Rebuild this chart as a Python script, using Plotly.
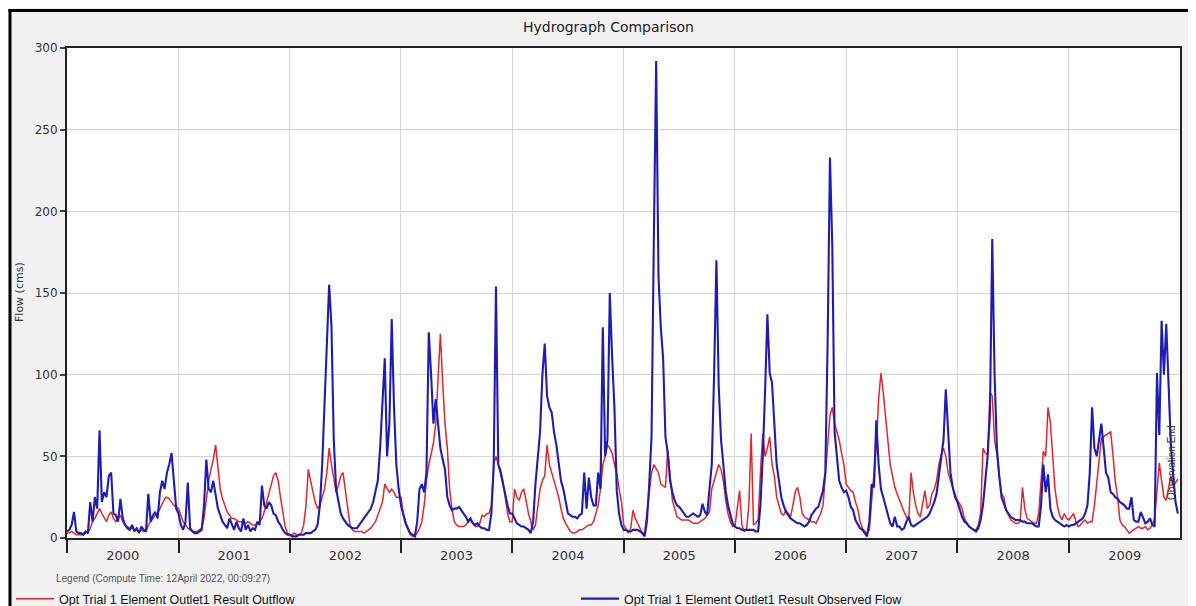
import datetime as dt
import plotly.graph_objects as go

years = list(range(2000, 2010))
SAMPLES_PER_YEAR = 48
year_tick_labels = [str(y) for y in years]

# Opt Trial 1 Element Outlet1 Result Outflow (cms), ~48 readings per year
out_2000 = [3, 3, 4, 3, 2, 2, 2, 2, 3, 3, 6, 10, 12, 15, 18, 15, 12, 10, 14, 16, 12, 10, 12, 14,
            10, 8, 7, 6, 6, 5, 5, 4, 5, 4, 4, 8, 10, 12, 14, 15, 18, 22, 24, 25, 24, 22, 20, 19]
out_2001 = [18, 14, 10, 8, 6, 5, 4, 4, 4, 5, 6, 12, 25, 35, 42, 48, 57, 45, 30, 24, 20, 16, 14, 12,
            12, 11, 10, 10, 9, 9, 10, 9, 8, 8, 9, 10, 12, 16, 22, 28, 34, 38, 40, 35, 25, 15, 7, 3]
out_2002 = [2, 2, 3, 2, 2, 3, 8, 20, 42, 35, 28, 22, 18, 20, 25, 30, 40, 55, 45, 35, 28, 32, 38, 40,
            30, 18, 8, 5, 4, 4, 4, 4, 3, 4, 5, 6, 8, 10, 14, 18, 22, 33, 30, 28, 30, 28, 25, 25]
out_2003 = [25, 15, 10, 5, 2, 1, 1, 3, 6, 10, 20, 35, 45, 52, 58, 70, 100, 125, 95, 70, 55, 30, 18, 10,
            8, 7, 7, 7, 8, 10, 11, 9, 7, 7, 9, 14, 13, 15, 15, 20, 45, 50, 45, 42, 35, 25, 15, 10]
out_2004 = [10, 30, 25, 23, 28, 30, 22, 15, 10, 5, 8, 20, 30, 35, 38, 57, 45, 40, 35, 30, 25, 18, 12, 9,
            6, 4, 3, 3, 4, 5, 5, 6, 7, 8, 8, 10, 15, 20, 30, 45, 50, 57, 55, 52, 45, 40, 30, 22]
out_2005 = [8, 5, 3, 6, 17, 12, 9, 6, 3, 3, 15, 25, 40, 45, 42, 40, 33, 32, 31, 54, 40, 23, 18, 13,
            12, 11, 11, 11, 11, 10, 9, 9, 9, 10, 11, 12, 14, 16, 30, 35, 40, 45, 42, 35, 23, 15, 10, 7]
out_2006 = [7, 19, 29, 8, 4, 5, 20, 64, 8, 9, 11, 40, 64, 50, 55, 62, 45, 38, 25, 20, 15, 14, 17, 15,
            13, 20, 28, 31, 25, 15, 13, 12, 11, 10, 10, 9, 12, 15, 20, 40, 60, 75, 80, 70, 65, 60, 52, 45]
out_2007 = [33, 31, 29, 28, 22, 18, 10, 6, 4, 3, 5, 23, 40, 56, 85, 101, 89, 75, 62, 45, 38, 31, 27, 23,
            19, 16, 13, 11, 40, 28, 20, 15, 13, 20, 29, 18, 20, 27, 30, 35, 45, 51, 55, 50, 40, 35, 31, 28]
out_2008 = [23, 21, 18, 12, 9, 7, 6, 5, 5, 8, 15, 55, 52, 51, 89, 87, 60, 51, 38, 27, 25, 17, 14, 11,
            10, 9, 9, 10, 31, 18, 12, 11, 10, 9, 9, 15, 35, 53, 50, 80, 71, 50, 30, 20, 14, 11, 15, 12]
out_2009 = [11, 13, 15, 10, 7, 8, 10, 11, 9, 10, 10, 20, 35, 50, 61, 62, 63, 64, 65, 51, 35, 25, 11, 8,
            7, 5, 3, 4, 5, 6, 7, 6, 6, 7, 5, 6, 8, 12, 32, 46, 35, 25, 23, 30, 38, 32, 34, 36]

# Opt Trial 1 Element Outlet1 Result Observed Flow (cms)
obs_2000 = [4, 5, 8, 16, 4, 3, 3, 2, 4, 3, 22, 10, 25, 18, 66, 22, 28, 25, 38, 40, 15, 14, 10, 24,
            12, 8, 6, 5, 8, 4, 6, 3, 7, 5, 4, 27, 10, 14, 16, 12, 28, 35, 30, 40, 45, 52, 35, 18]
obs_2001 = [15, 8, 5, 10, 34, 6, 4, 3, 3, 4, 5, 20, 48, 30, 28, 35, 25, 18, 14, 10, 8, 6, 12, 8,
            5, 10, 6, 4, 12, 5, 8, 4, 6, 5, 10, 8, 32, 20, 18, 22, 20, 15, 14, 10, 8, 5, 3, 2]
obs_2002 = [2, 1, 1, 1, 2, 2, 2, 3, 3, 3, 4, 5, 8, 20, 45, 80, 120, 155, 130, 60, 30, 22, 15, 12,
            10, 8, 7, 6, 6, 6, 8, 10, 12, 14, 16, 18, 22, 28, 35, 55, 80, 110, 50, 70, 134, 80, 45, 30]
obs_2003 = [20, 14, 9, 6, 3, 2, 1, 10, 30, 33, 28, 40, 126, 100, 70, 85, 69, 55, 48, 42, 25, 20, 17, 18,
            18, 19, 17, 15, 13, 10, 12, 9, 8, 9, 7, 6, 6, 5, 5, 15, 43, 154, 45, 40, 33, 25, 20, 15]
obs_2004 = [15, 12, 9, 8, 7, 7, 6, 5, 3, 10, 33, 50, 65, 100, 119, 87, 80, 77, 65, 57, 45, 35, 30, 22,
            15, 14, 13, 13, 12, 14, 15, 40, 18, 37, 25, 20, 20, 40, 30, 129, 50, 60, 150, 111, 80, 29, 15, 8]
obs_2005 = [5, 5, 4, 4, 5, 5, 5, 4, 3, 1, 10, 33, 62, 183, 292, 160, 129, 110, 62, 52, 35, 28, 23, 20,
            19, 17, 15, 13, 13, 14, 15, 14, 13, 14, 21, 16, 14, 30, 45, 100, 170, 93, 60, 45, 29, 20, 15, 9]
obs_2006 = [7, 6, 6, 5, 5, 5, 5, 5, 5, 4, 4, 20, 50, 90, 137, 101, 95, 70, 45, 35, 25, 20, 16, 14,
            12, 11, 10, 9, 9, 8, 7, 8, 10, 14, 16, 18, 19, 24, 29, 40, 120, 233, 180, 65, 50, 35, 31, 28]
obs_2007 = [29, 25, 19, 17, 11, 8, 6, 5, 3, 1, 10, 33, 31, 72, 45, 30, 25, 20, 15, 9, 7, 13, 7, 7,
            5, 6, 10, 13, 8, 7, 8, 9, 10, 11, 12, 13, 15, 18, 22, 27, 38, 48, 60, 91, 68, 40, 31, 25]
obs_2008 = [22, 17, 13, 10, 9, 7, 6, 5, 4, 6, 11, 20, 35, 50, 76, 183, 100, 55, 38, 25, 21, 17, 15, 13,
            12, 11, 11, 11, 10, 10, 9, 9, 9, 8, 7, 7, 20, 45, 28, 39, 18, 13, 11, 10, 9, 8, 7, 8]
obs_2009 = [7, 8, 8, 9, 10, 11, 12, 15, 20, 40, 80, 55, 50, 60, 70, 55, 40, 37, 28, 27, 25, 24, 22, 21,
            20, 18, 18, 25, 11, 10, 10, 16, 12, 9, 10, 12, 8, 7, 101, 63, 133, 100, 131, 96, 57, 38, 22, 15]

outflow = (out_2000 + out_2001 + out_2002 + out_2003 + out_2004 +
           out_2005 + out_2006 + out_2007 + out_2008 + out_2009)
observed = (obs_2000 + obs_2001 + obs_2002 + obs_2003 + obs_2004 +
            obs_2005 + obs_2006 + obs_2007 + obs_2008 + obs_2009)


def year_dates(year, n):
    start = dt.datetime(year, 1, 1)
    ndays = (dt.datetime(year + 1, 1, 1) - start).days
    return [start + dt.timedelta(days=ndays * i / n) for i in range(n)]


dates = []
for y in years:
    dates += year_dates(y, SAMPLES_PER_YEAR)

# the page body adds an 8 px offset; figure spans window px 8..1196 / 8..606
OFF = 8
W, H = 1196 - OFF, 606 - OFF
PL, PR, PT, PB = 67, 1180, 48, 538          # plot area in window pixels
L, R, T, B = PL - OFF, 1196 - PR, PT - OFF, 606 - PB
PW, PH = PR - PL, PB - PT


def px(x):
    return (x - PL) / PW


def py(y):
    return (PB - y) / PH


FONT = "Liberation Sans, Arial, sans-serif"
WIDE = "DejaVu Sans, Verdana, sans-serif"

fig = go.Figure()
fig.add_trace(go.Scatter(
    x=dates, y=outflow, mode="lines",
    name="Opt Trial 1 Element Outlet1 Result Outflow",
    line=dict(color="#e2262b", width=1.5),
))
fig.add_trace(go.Scatter(
    x=dates, y=observed, mode="lines",
    name="Opt Trial 1 Element Outlet1 Result Observed Flow",
    line=dict(color="#1d1db5", width=2.1),
))

fig.update_layout(
    width=W, height=H,
    margin=dict(l=L, r=R, t=T, b=B, autoexpand=False),
    paper_bgcolor="#f1f1f1",
    plot_bgcolor="white",
    font=dict(family=FONT, color="#333"),
    showlegend=True,
    legend=dict(
        orientation="h", x=px(11), y=py(599), xanchor="left", yanchor="middle",
        font=dict(size=12.5, color="#111", family=FONT),
        bgcolor="rgba(0,0,0,0)", entrywidth=512, entrywidthmode="pixels",
        itemwidth=38, traceorder="normal",
    ),
    xaxis=dict(
        type="date",
        range=[dt.datetime(2000, 1, 1), dt.datetime(2009, 12, 31, 12)],
        tick0="2000-01-01", dtick="M12", tickformat="%Y",
        ticklabelmode="period", ticklabelstandoff=-9,
        ticks="outside", ticklen=13, tickwidth=2, tickcolor="#222",
        showgrid=True, gridcolor="#d6d6d6", gridwidth=1,
        showline=True, linecolor="#222", linewidth=2, mirror=True,
        tickfont=dict(size=13, color="#333", family=WIDE),
        zeroline=False,
    ),
    yaxis=dict(
        range=[0, 300], tick0=0, dtick=50,
        ticks="outside", ticklen=5, tickwidth=1.5, tickcolor="#444",
        showgrid=True, gridcolor="#d6d6d6", gridwidth=1,
        showline=True, linecolor="#222", linewidth=2, mirror=True,
        tickfont=dict(size=12, color="#333", family=WIDE),
        zeroline=False,
    ),
    annotations=[
        dict(text="Hydrograph Comparison", xref="paper", yref="paper",
             x=px(608), y=py(27), xanchor="center", yanchor="middle",
             showarrow=False, font=dict(size=14, color="#222", family=WIDE)),
        dict(text="Flow (cms)", xref="paper", yref="paper",
             x=px(19), y=py(292), xanchor="center", yanchor="middle",
             textangle=-90, showarrow=False, font=dict(size=11, color="#333", family=WIDE)),
        dict(text="Legend (Compute Time: 12April 2022, 00:09:27)", xref="paper", yref="paper",
             x=px(54), y=py(578), xanchor="left", yanchor="middle",
             showarrow=False, font=dict(size=10, color="#555")),
        dict(text="Observation End", xref="paper", yref="paper",
             x=px(1172), y=py(463), xanchor="center", yanchor="middle",
             textangle=-90, showarrow=False, font=dict(size=10, color="#333")),
    ],
    shapes=[
        dict(type="line", xref="paper", yref="paper", x0=px(10), x1=px(10),
             y0=py(610), y1=py(9), line=dict(color="black", width=3)),
        dict(type="line", xref="paper", yref="paper", x0=px(8.5), x1=px(1200),
             y0=py(10.5), y1=py(10.5), line=dict(color="black", width=3)),
    ],
)

fig.write_html("out.html")
